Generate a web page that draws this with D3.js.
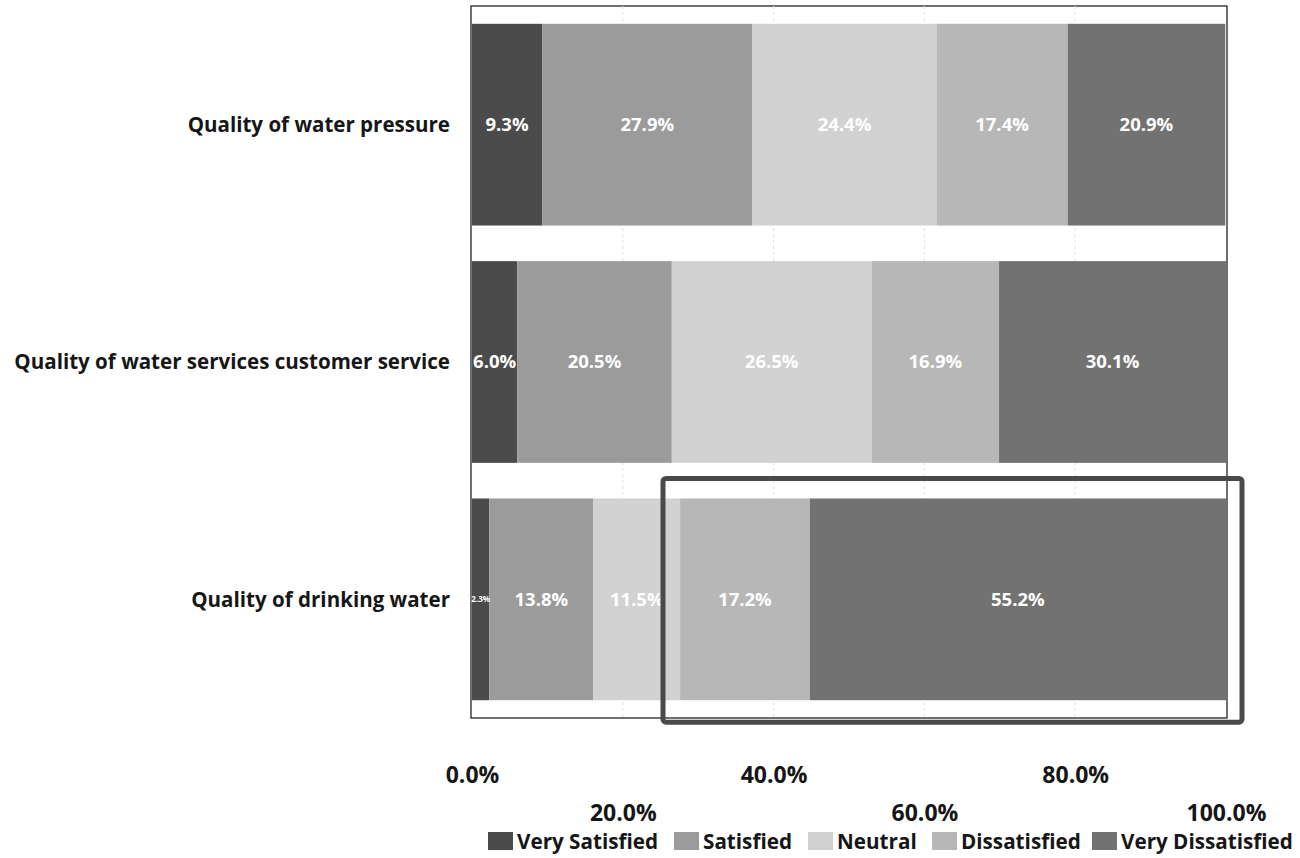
<!DOCTYPE html>
<html>
<head>
<meta charset="utf-8">
<script src="https://cdn.jsdelivr.net/npm/d3@7"></script>
<style>
  body { margin: 0; background: #fff; }
  svg { display: block; }
</style>
</head>
<body>
<svg id="chart" width="1300" height="858"></svg>
<script>
// Satisfaction survey results (percent of respondents)
const categories = [
  "Quality of water pressure",
  "Quality of water services customer service",
  "Quality of drinking water"
];
const seriesNames = ["Very Satisfied", "Satisfied", "Neutral", "Dissatisfied", "Very Dissatisfied"];
const verySatisfied    = [9.3, 6.0, 2.3];
const satisfied        = [27.9, 20.5, 13.8];
const neutral          = [24.4, 26.5, 11.5];
const dissatisfied     = [17.4, 16.9, 17.2];
const veryDissatisfied = [20.9, 30.1, 55.2];
const tickValues = [0, 20, 40, 60, 80, 100];
const tickLabels = ["0.0%", "20.0%", "40.0%", "60.0%", "80.0%", "100.0%"];
const colors = ["#4b4b4b", "#9b9b9b", "#d2d2d2", "#b7b7b7", "#727272"];

const seriesValues = [verySatisfied, satisfied, neutral, dissatisfied, veryDissatisfied];
const rows = categories.map((c, i) => {
  const r = { category: c };
  seriesNames.forEach((s, j) => r[s] = seriesValues[j][i]);
  return r;
});

const svg = d3.select("#chart");
const font = "'Open Sans', Lato, sans-serif";
const ink = "#161616";

// scale a text selection's font size so its widest item spans the given width
function fitWidth(sel, target) {
  let widest = 0;
  sel.each(function () { widest = Math.max(widest, this.getComputedTextLength()); });
  const size = parseFloat(sel.attr("font-size"));
  sel.attr("font-size", (size * target / widest).toFixed(2));
}

const frame = { left: 471, right: 1227, top: 6, bottom: 718 };
const x = d3.scaleLinear().domain([0, 100]).range([472, 1226]);
const y = d3.scaleBand().domain(categories).range([frame.top, frame.bottom]).paddingInner(0.15).paddingOuter(0.075);

// plot frame
svg.append("rect")
  .attr("x", frame.left).attr("y", frame.top)
  .attr("width", frame.right - frame.left).attr("height", frame.bottom - frame.top)
  .attr("fill", "#fff").attr("stroke", "#222").attr("stroke-width", 1.3);

// faint gridlines
svg.append("g").selectAll("line").data(tickValues.slice(1, -1)).join("line")
  .attr("x1", d => x(d)).attr("x2", d => x(d))
  .attr("y1", frame.top).attr("y2", frame.bottom)
  .attr("stroke", "#e2e2e2").attr("stroke-dasharray", "3,3");

const stacked = d3.stack().keys(seriesNames)(rows);

const layers = svg.append("g").selectAll("g").data(stacked).join("g")
  .attr("fill", (d, i) => colors[i]);

layers.selectAll("rect").data(d => d).join("rect")
  .attr("x", d => x(d[0]))
  .attr("y", d => y(d.data.category))
  .attr("width", d => x(d[1]) - x(d[0]))
  .attr("height", y.bandwidth());

// value labels
const labels = svg.append("g");
stacked.forEach(layer => {
  layer.forEach(d => {
    const v = d[1] - d[0];
    const w = x(d[1]) - x(d[0]);
    labels.append("text")
      .attr("x", (x(d[0]) + x(d[1])) / 2)
      .attr("y", y(d.data.category) + y.bandwidth() / 2)
      .attr("dy", "0.35em")
      .attr("text-anchor", "middle")
      .attr("fill", "#fff")
      .attr("font-family", font)
      .attr("font-weight", "bold")
      .attr("font-size", w < 25 ? 8 : 18.5)
      .text(v.toFixed(1) + "%");
  });
});

// category labels
const catLabels = svg.append("g").selectAll("text").data(categories).join("text")
  .attr("x", 450)
  .attr("y", d => y(d) + y.bandwidth() / 2)
  .attr("dy", "0.35em")
  .attr("text-anchor", "end")
  .attr("font-family", font)
  .attr("font-weight", "bold")
  .attr("font-size", 20)
  .attr("fill", ink)
  .text(d => d);
fitWidth(catLabels, 436);

// staggered x-axis tick labels
const xAxis = d3.axisBottom(x).tickValues(tickValues).tickSize(0)
  .tickFormat((d, i) => tickLabels[i]);
const axisG = svg.append("g").attr("transform", `translate(0,${frame.bottom})`).call(xAxis);
axisG.select(".domain").remove();
axisG.selectAll("text")
  .attr("font-family", font)
  .attr("font-weight", "bold")
  .attr("font-size", 22)
  .attr("fill", ink)
  .attr("y", (d, i) => i % 2 === 0 ? 65 : 103)
  .attr("dy", "0");
fitWidth(axisG.selectAll("text"), 80);

// highlight box around the dissatisfaction share of drinking water
const hb = y("Quality of drinking water");
svg.append("rect")
  .attr("x", 663).attr("y", hb - 20)
  .attr("width", 1242 - 663).attr("height", y.bandwidth() + 42)
  .attr("rx", 3)
  .attr("fill", "none").attr("stroke", "#4a4a4a").attr("stroke-width", 5);

// legend
const legendX = [488, 674, 808, 932, 1092];
const lg = svg.append("g").selectAll("g").data(seriesNames).join("g")
  .attr("transform", (d, i) => `translate(${legendX[i]},832)`);
lg.append("rect").attr("width", 25).attr("height", 18)
  .attr("fill", (d, i) => colors[i]);
const lgText = lg.append("text").attr("x", 29).attr("y", 17)
  .attr("font-family", font)
  .attr("font-weight", "bold")
  .attr("font-size", 20)
  .attr("fill", ink)
  .text(d => d);
fitWidth(lgText, 172);
</script>
</body>
</html>
